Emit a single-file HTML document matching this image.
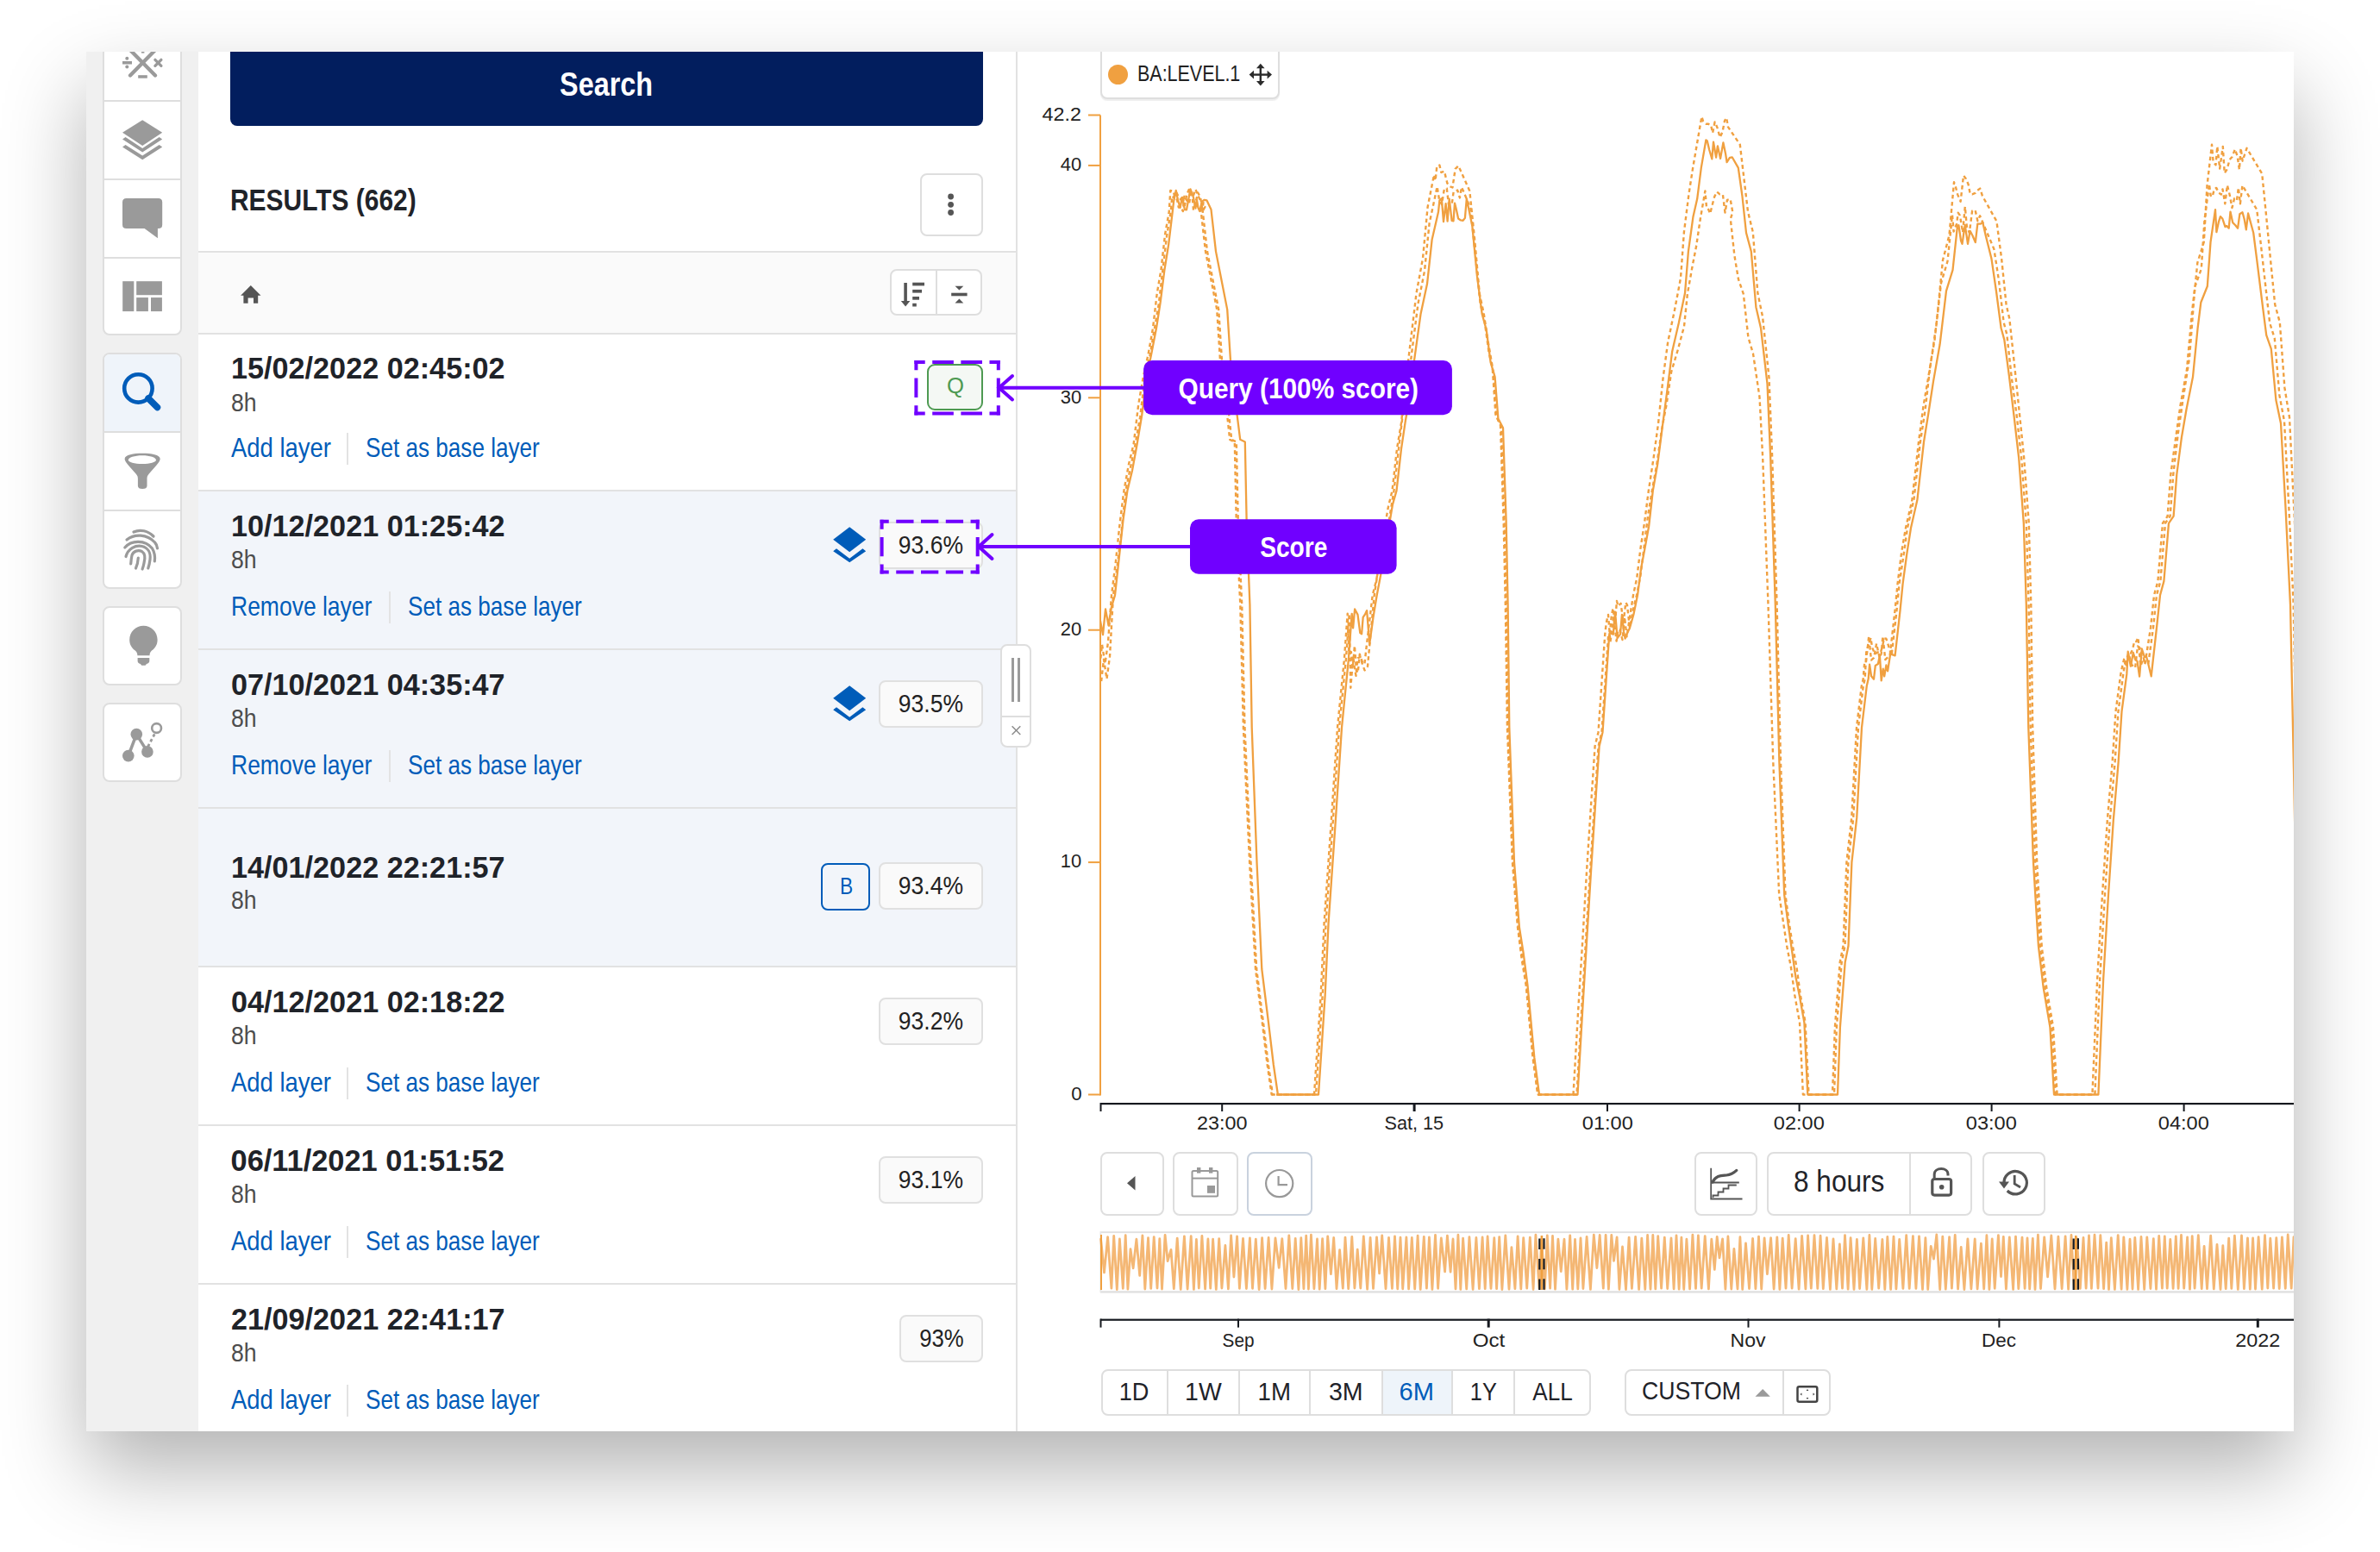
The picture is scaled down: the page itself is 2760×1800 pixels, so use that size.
<!DOCTYPE html>
<html lang="en"><head><meta charset="utf-8"><title>Search results</title>
<style>
html,body{margin:0;padding:0;background:#fff;}
body{width:2760px;height:1800px;overflow:hidden;position:relative;font-family:'Liberation Sans', Arial, sans-serif;}
.win{position:absolute;left:100px;top:60px;width:2560px;height:1600px;background:#fff;overflow:hidden;box-shadow:0 44px 90px 0 rgba(0,0,0,0.30);}
.a{position:absolute;}
.t{white-space:nowrap;line-height:1;}
svg.a{overflow:visible;}
</style></head><body>
<div class="win">
<div class="a" style="left:0.0px;top:0.0px;width:130.0px;height:1600.0px;background:#f0f0f0;"></div>
<div class="a" style="left:19.0px;top:-40.0px;width:92.0px;height:369.0px;background:#fff;border:2px solid #dedede;box-sizing:border-box;border-radius:8px;"></div>
<div class="a" style="left:21.0px;top:56.0px;width:88.0px;height:2.0px;background:#dedede;"></div>
<div class="a" style="left:21.0px;top:147.0px;width:88.0px;height:2.0px;background:#dedede;"></div>
<div class="a" style="left:21.0px;top:238.0px;width:88.0px;height:2.0px;background:#dedede;"></div>
<div class="a" style="left:19.0px;top:349.0px;width:92.0px;height:274.0px;background:#fff;border:2px solid #dedede;box-sizing:border-box;border-radius:8px;"></div>
<div class="a" style="left:21.0px;top:351.0px;width:88.0px;height:89.0px;background:#eff4fa;border-radius:6px 6px 0 0;"></div>
<div class="a" style="left:21.0px;top:440.0px;width:88.0px;height:2.0px;background:#dedede;"></div>
<div class="a" style="left:21.0px;top:531.0px;width:88.0px;height:2.0px;background:#dedede;"></div>
<div class="a" style="left:19.0px;top:643.0px;width:92.0px;height:92.0px;background:#fff;border:2px solid #dedede;box-sizing:border-box;border-radius:8px;"></div>
<div class="a" style="left:19.0px;top:755.0px;width:92.0px;height:92.0px;background:#fff;border:2px solid #dedede;box-sizing:border-box;border-radius:8px;"></div>
<svg class="a" style="left:21.0px;top:0.0px;" width="88.0" height="56.0" viewBox="121 60 88 56">
      <g stroke="#9a9a9a" stroke-width="4.3" stroke-linecap="round" fill="none">
        <line x1="151" y1="58" x2="180" y2="87.5"/><line x1="180" y1="58" x2="151" y2="87.5"/>
        <line x1="179.9" y1="69.3" x2="186.9" y2="76.3" stroke-width="3.3"/><line x1="186.9" y1="69.3" x2="179.9" y2="76.3" stroke-width="3.3"/>
      </g>
      <rect x="142" y="71" width="11" height="3.5" fill="#9a9a9a"/>
      <circle cx="147.3" cy="67.8" r="2" fill="#9a9a9a"/><circle cx="147.3" cy="77.6" r="2" fill="#9a9a9a"/>
      <rect x="160.2" y="87.2" width="10.6" height="3.5" fill="#9a9a9a"/>
      <rect x="164" y="58" width="3.4" height="3.6" fill="#9a9a9a"/>
    </svg>
<svg class="a" style="left:21.0px;top:58.0px;" width="88.0" height="89.0" viewBox="121 118 88 89">
      <g fill="#9a9a9a">
        <path d="M165.2,139.2 L188.2,153.7 L165.2,169 L142,153.7 Z"/>
        <path d="M142,161.5 L145.5,159 L165.2,172 L184.6,159 L188.2,161.5 L165.2,176.6 Z"/>
        <path d="M142,170.5 L145.5,168 L165.2,180.6 L184.6,168 L188.2,170.5 L165.2,185.3 Z"/>
      </g></svg>
<svg class="a" style="left:21.0px;top:149.0px;" width="88.0" height="89.0" viewBox="121 209 88 89">
      <path fill="#9a9a9a" d="M146.6,230 H183.6 Q188.2,230 188.2,234.6 V260.5 Q188.2,265.1 183.6,265.1 H182.9 V276.2 L167.6,265.1 H146.6 Q142,265.1 142,260.5 V234.6 Q142,230 146.6,230 Z"/></svg>
<svg class="a" style="left:21.0px;top:240.0px;" width="88.0" height="87.0" viewBox="121 300 88 87">
      <g fill="#9a9a9a"><rect x="142.2" y="326.2" width="13.1" height="34.9"/><rect x="158.2" y="326.2" width="29.7" height="16"/>
      <rect x="158.2" y="345.1" width="13.7" height="16"/><rect x="175" y="345.1" width="12.9" height="16"/></g></svg>
<svg class="a" style="left:21.0px;top:351.0px;" width="88.0" height="89.0" viewBox="121 411 88 89">
      <circle cx="160.4" cy="450.4" r="16.2" fill="none" stroke="#005cb9" stroke-width="4.6"/>
      <line x1="172" y1="462" x2="182.5" y2="472.5" stroke="#005cb9" stroke-width="7.5" stroke-linecap="round"/></svg>
<svg class="a" style="left:21.0px;top:442.0px;" width="88.0" height="89.0" viewBox="121 502 88 89">
      <path fill="#9a9a9a" fill-rule="evenodd" d="M144.6,532.3 C144.6,527.5 155,525.8 165.2,525.8 C175.4,525.8 185.7,527.5 185.7,532.3 C185.7,535.5 180,541.5 172.8,549.5 C171,551.5 170.5,553 170.5,555.5 L170.5,563.5 C170.5,566 168.5,567 165.2,567 C161.9,567 159.9,566 159.9,563.5 L159.9,555.5 C159.9,553 159.4,551.5 157.6,549.5 C150.4,541.5 144.6,535.5 144.6,532.3 Z
        M148.8,533.5 C148.8,536 156,538.1 165,538.1 C174,538.1 181,536 181,533.5 C181,530.5 174,528.2 165,528.2 C156,528.2 148.8,530.5 148.8,533.5 Z"/></svg>
<svg class="a" style="left:21.0px;top:533.0px;" width="88.0" height="88.0" viewBox="121 593 88 88">
      <g fill="none" stroke="#9a9a9a" stroke-width="3.2" stroke-linecap="round" transform="translate(-1.5,0)">
        <path d="M156.5,617 C164,613.5 173,615.5 179.5,622"/>
        <path d="M148.5,626 C157,619 172,619 181,629 C183,631 183.5,633 184,636"/>
        <path d="M146.3,635 C154,626 170,626 178,636 C181,641 181.5,646 180.8,651"/>
        <path d="M147.5,645.5 C150,636 159,632 166,633.5 C173,635 176.5,641 175.5,649 C175,653 174.3,656 173.3,659"/>
        <path d="M153.2,654 C153.5,650 153.8,647 154.5,644 C156,639 162,637.5 166,639.5 C170,642 169.8,648 168.5,653 C168,656 167.3,658 166.6,660"/>
        <path d="M159,659 C160.5,656 161.5,652 161.8,647"/>
      </g></svg>
<svg class="a" style="left:21.0px;top:645.0px;" width="88.0" height="88.0" viewBox="121 705 88 88">
      <path fill="#9a9a9a" d="M166.4,725.8 C175.3,725.8 182.6,733 182.6,742 C182.6,747.5 180,751.8 176,754.6 C174.3,756 173.6,758 173.5,760.2 L159.4,760.2 C159.3,758 158.6,756 156.8,754.6 C152.8,751.8 150.2,747.5 150.2,742 C150.2,733 157.5,725.8 166.4,725.8 Z"/>
      <path fill="#9a9a9a" d="M159.6,763 H173.3 V766.5 C173.3,768.5 172,769.5 170,770 L168.5,771.7 H164.3 L162.8,770 C160.8,769.5 159.6,768.5 159.6,766.5 Z"/></svg>
<svg class="a" style="left:21.0px;top:757.0px;" width="88.0" height="88.0" viewBox="121 817 88 88">
      <g stroke="#9a9a9a" stroke-width="3.6" fill="none"><line x1="148.8" y1="876.6" x2="158.3" y2="851.6"/><line x1="158.3" y1="851.6" x2="170.9" y2="871.9"/></g>
      <line x1="171.5" y1="866" x2="180" y2="850" stroke="#9a9a9a" stroke-width="2.8" stroke-dasharray="3.5,3"/>
      <g fill="#9a9a9a"><circle cx="158.3" cy="851.6" r="6.8"/><circle cx="148.8" cy="876.6" r="6.8"/><circle cx="170.9" cy="871.9" r="6.8"/></g>
      <circle cx="181.6" cy="844.5" r="5.4" fill="none" stroke="#9a9a9a" stroke-width="2.6"/></svg>
<div class="a" style="left:130.0px;top:0.0px;width:948.0px;height:1600.0px;background:#fff;"></div>
<div class="a" style="left:1077.5px;top:0.0px;width:2.0px;height:1600.0px;background:#e2e2e2;"></div>
<div class="a" style="left:167.0px;top:-50.0px;width:873.0px;height:136.0px;background:#021e5e;border-radius:8px;"></div>
<span class="a t" style="left:538.0px;top:17.8px;font-size:39px;font-weight:700;color:#fff;transform:scaleX(0.8302);transform-origin:center 0;">Search</span>
<span class="a t" style="left:167.0px;top:154.6px;font-size:35.5px;font-weight:700;color:#1f2329;transform:scaleX(0.8433);transform-origin:left 0;">RESULTS (662)</span>
<div class="a" style="left:966.5px;top:140.5px;width:73.0px;height:73.0px;background:#fff;border:2px solid #dedede;box-sizing:border-box;border-radius:8px;"></div>
<svg class="a" style="left:990.0px;top:160.0px;" width="25.0" height="35.0" viewBox="1090 220 25 35"><g fill="#555"><circle cx="1102.6" cy="228" r="3.4"/><circle cx="1102.6" cy="237.3" r="3.4"/><circle cx="1102.6" cy="246.5" r="3.4"/></g></svg>
<div class="a" style="left:130.0px;top:230.5px;width:947.5px;height:2.0px;background:#e2e2e2;"></div>
<div class="a" style="left:130.0px;top:232.5px;width:947.5px;height:93.5px;background:#fafafa;"></div>
<svg class="a" style="left:175.0px;top:265.0px;" width="31.0" height="31.0" viewBox="275 325 31 31"><path fill="#555" d="M290.8,331 L302.5,342.8 L299.2,342.8 L299.2,351.8 L294,351.8 L294,345.5 L287.6,345.5 L287.6,351.8 L282.4,351.8 L282.4,342.8 L279.1,342.8 Z"/></svg>
<div class="a" style="left:931.6px;top:252.2px;width:107.7px;height:54.1px;background:#fff;border:2px solid #dedede;box-sizing:border-box;border-radius:8px;"></div>
<div class="a" style="left:984.7px;top:253.0px;width:2.0px;height:53.0px;background:#dedede;"></div>
<svg class="a" style="left:940.0px;top:262.0px;" width="90.0" height="38.0" viewBox="1040 322 90 38"><g fill="#555">
      <rect x="1048.3" y="328" width="3.6" height="22"/><path d="M1044.8,349 L1055.4,349 L1050.1,355.4 Z"/>
      <rect x="1058.2" y="327.7" width="13.8" height="3.7"/><rect x="1058.2" y="335.9" width="10.8" height="3.7"/>
      <rect x="1058.2" y="344" width="7.8" height="3.7"/><rect x="1058.2" y="351.8" width="4.6" height="3.7"/>
      <rect x="1103.2" y="339.7" width="18.4" height="3.6"/>
      <path d="M1107.5,331.8 L1117.3,331.8 L1112.4,336.6 Z"/><path d="M1107.5,351.6 L1117.3,351.6 L1112.4,346.6 Z"/></g></svg>
<div class="a" style="left:130.0px;top:326.0px;width:947.5px;height:2.0px;background:#e2e2e2;"></div>
<span class="a t" style="left:167.5px;top:349.6px;font-size:34.4px;font-weight:700;color:#1f2329;transform:scaleX(0.9945);transform-origin:left 0;">15/02/2022 02:45:02</span>
<span class="a t" style="left:167.5px;top:391.5px;font-size:29.9px;font-weight:400;color:#4d4d4d;transform:scaleX(0.8902);transform-origin:left 0;">8h</span>
<span class="a t" style="left:167.5px;top:443.9px;font-size:30.5px;font-weight:400;color:#005cb9;transform:scaleX(0.9002);transform-origin:left 0;">Add layer</span>
<div class="a" style="left:302.1px;top:441.8px;width:2.4px;height:37.5px;background:#e3e3e3;"></div>
<span class="a t" style="left:324.3px;top:443.9px;font-size:30.5px;font-weight:400;color:#005cb9;transform:scaleX(0.8563);transform-origin:left 0;">Set as base layer</span>
<div class="a" style="left:975.3px;top:362.3px;width:64.3px;height:53.6px;background:#f4f8f4;border:2.4px solid #4e9a52;box-sizing:border-box;border-radius:9px;"></div>
<span class="a t" style="left:997.5px;top:373.9px;font-size:26px;font-weight:400;color:#4e9a52;transform:scaleX(0.9884);transform-origin:center 0;">Q</span>
<div class="a" style="left:130.0px;top:510.0px;width:947.5px;height:182.0px;background:#f2f5fa;"></div>
<div class="a" style="left:130.0px;top:508.0px;width:947.5px;height:2.0px;background:#e2e2e2;"></div>
<span class="a t" style="left:167.5px;top:533.4px;font-size:34.4px;font-weight:700;color:#1f2329;transform:scaleX(0.9945);transform-origin:left 0;">10/12/2021 01:25:42</span>
<span class="a t" style="left:167.5px;top:574.1px;font-size:29.9px;font-weight:400;color:#4d4d4d;transform:scaleX(0.8902);transform-origin:left 0;">8h</span>
<span class="a t" style="left:167.5px;top:627.7px;font-size:30.5px;font-weight:400;color:#005cb9;transform:scaleX(0.8684);transform-origin:left 0;">Remove layer</span>
<div class="a" style="left:350.5px;top:625.6px;width:2.4px;height:37.5px;background:#e3e3e3;"></div>
<span class="a t" style="left:372.7px;top:627.7px;font-size:30.5px;font-weight:400;color:#005cb9;transform:scaleX(0.8563);transform-origin:left 0;">Set as base layer</span>
<div class="a" style="left:919.3px;top:544.6px;width:120.9px;height:55.1px;background:#fafafa;border:2px solid #e0e0e0;box-sizing:border-box;border-radius:8px;"></div>
<span class="a t" style="left:937.4px;top:556.6px;font-size:29.9px;font-weight:400;color:#222;transform:scaleX(0.8872);transform-origin:center 0;">93.6%</span>
<svg class="a" style="left:860.0px;top:545.8px;" width="50.0" height="53.6" viewBox="960 605.8 50 53.60000000000002"><g fill="#005cb9" transform="translate(966.2,611.0)">
      <path d="M19,0 L38,14.5 L19,29 L0,14.5 Z"/>
      <path d="M0,28 L3.8,25 L19,36.5 L34.2,25 L38,28 L19,41 Z"/></g></svg>
<div class="a" style="left:130.0px;top:694.0px;width:947.5px;height:182.0px;background:#f2f5fa;"></div>
<div class="a" style="left:130.0px;top:692.0px;width:947.5px;height:2.0px;background:#e2e2e2;"></div>
<span class="a t" style="left:167.5px;top:717.4px;font-size:34.4px;font-weight:700;color:#1f2329;transform:scaleX(0.9945);transform-origin:left 0;">07/10/2021 04:35:47</span>
<span class="a t" style="left:167.5px;top:758.1px;font-size:29.9px;font-weight:400;color:#4d4d4d;transform:scaleX(0.8902);transform-origin:left 0;">8h</span>
<span class="a t" style="left:167.5px;top:811.7px;font-size:30.5px;font-weight:400;color:#005cb9;transform:scaleX(0.8684);transform-origin:left 0;">Remove layer</span>
<div class="a" style="left:350.5px;top:809.6px;width:2.4px;height:37.5px;background:#e3e3e3;"></div>
<span class="a t" style="left:372.7px;top:811.7px;font-size:30.5px;font-weight:400;color:#005cb9;transform:scaleX(0.8563);transform-origin:left 0;">Set as base layer</span>
<div class="a" style="left:919.3px;top:728.6px;width:120.9px;height:55.1px;background:#fafafa;border:2px solid #e0e0e0;box-sizing:border-box;border-radius:8px;"></div>
<span class="a t" style="left:937.4px;top:740.6px;font-size:29.9px;font-weight:400;color:#222;transform:scaleX(0.8872);transform-origin:center 0;">93.5%</span>
<svg class="a" style="left:860.0px;top:729.8px;" width="50.0" height="53.6" viewBox="960 789.8 50 53.60000000000002"><g fill="#005cb9" transform="translate(966.2,795.0)">
      <path d="M19,0 L38,14.5 L19,29 L0,14.5 Z"/>
      <path d="M0,28 L3.8,25 L19,36.5 L34.2,25 L38,28 L19,41 Z"/></g></svg>
<div class="a" style="left:130.0px;top:878.0px;width:947.5px;height:182.0px;background:#f2f5fa;"></div>
<div class="a" style="left:130.0px;top:876.0px;width:947.5px;height:2.0px;background:#e2e2e2;"></div>
<span class="a t" style="left:167.5px;top:928.8px;font-size:34.4px;font-weight:700;color:#1f2329;transform:scaleX(0.9945);transform-origin:left 0;">14/01/2022 22:21:57</span>
<span class="a t" style="left:167.5px;top:969.4px;font-size:29.9px;font-weight:400;color:#4d4d4d;transform:scaleX(0.8902);transform-origin:left 0;">8h</span>
<div class="a" style="left:919.3px;top:940.4px;width:120.9px;height:55.1px;background:#fafafa;border:2px solid #e0e0e0;box-sizing:border-box;border-radius:8px;"></div>
<span class="a t" style="left:937.4px;top:952.4px;font-size:29.9px;font-weight:400;color:#222;transform:scaleX(0.8872);transform-origin:center 0;">93.4%</span>
<div class="a" style="left:851.9px;top:940.8px;width:57.6px;height:55.2px;background:transparent;border:2.4px solid #005cb9;box-sizing:border-box;border-radius:8px;"></div>
<span class="a t" style="left:871.6px;top:953.4px;font-size:28.5px;font-weight:400;color:#005cb9;transform:scaleX(0.7993);transform-origin:center 0;">B</span>
<div class="a" style="left:130.0px;top:1060.0px;width:947.5px;height:2.0px;background:#e2e2e2;"></div>
<span class="a t" style="left:167.5px;top:1085.4px;font-size:34.4px;font-weight:700;color:#1f2329;transform:scaleX(0.9945);transform-origin:left 0;">04/12/2021 02:18:22</span>
<span class="a t" style="left:167.5px;top:1126.1px;font-size:29.9px;font-weight:400;color:#4d4d4d;transform:scaleX(0.8902);transform-origin:left 0;">8h</span>
<span class="a t" style="left:167.5px;top:1179.7px;font-size:30.5px;font-weight:400;color:#005cb9;transform:scaleX(0.9002);transform-origin:left 0;">Add layer</span>
<div class="a" style="left:302.1px;top:1177.6px;width:2.4px;height:37.5px;background:#e3e3e3;"></div>
<span class="a t" style="left:324.3px;top:1179.7px;font-size:30.5px;font-weight:400;color:#005cb9;transform:scaleX(0.8563);transform-origin:left 0;">Set as base layer</span>
<div class="a" style="left:919.3px;top:1096.6px;width:120.9px;height:55.1px;background:#fafafa;border:2px solid #e0e0e0;box-sizing:border-box;border-radius:8px;"></div>
<span class="a t" style="left:937.4px;top:1108.6px;font-size:29.9px;font-weight:400;color:#222;transform:scaleX(0.8872);transform-origin:center 0;">93.2%</span>
<div class="a" style="left:130.0px;top:1244.0px;width:947.5px;height:2.0px;background:#e2e2e2;"></div>
<span class="a t" style="left:167.5px;top:1269.4px;font-size:34.4px;font-weight:700;color:#1f2329;">06/11/2021 01:51:52</span>
<span class="a t" style="left:167.5px;top:1310.1px;font-size:29.9px;font-weight:400;color:#4d4d4d;transform:scaleX(0.8902);transform-origin:left 0;">8h</span>
<span class="a t" style="left:167.5px;top:1363.7px;font-size:30.5px;font-weight:400;color:#005cb9;transform:scaleX(0.9002);transform-origin:left 0;">Add layer</span>
<div class="a" style="left:302.1px;top:1361.6px;width:2.4px;height:37.5px;background:#e3e3e3;"></div>
<span class="a t" style="left:324.3px;top:1363.7px;font-size:30.5px;font-weight:400;color:#005cb9;transform:scaleX(0.8563);transform-origin:left 0;">Set as base layer</span>
<div class="a" style="left:919.3px;top:1280.6px;width:120.9px;height:55.1px;background:#fafafa;border:2px solid #e0e0e0;box-sizing:border-box;border-radius:8px;"></div>
<span class="a t" style="left:937.4px;top:1292.6px;font-size:29.9px;font-weight:400;color:#222;transform:scaleX(0.8872);transform-origin:center 0;">93.1%</span>
<div class="a" style="left:130.0px;top:1428.0px;width:947.5px;height:2.0px;background:#e2e2e2;"></div>
<span class="a t" style="left:167.5px;top:1453.4px;font-size:34.4px;font-weight:700;color:#1f2329;transform:scaleX(0.9945);transform-origin:left 0;">21/09/2021 22:41:17</span>
<span class="a t" style="left:167.5px;top:1494.1px;font-size:29.9px;font-weight:400;color:#4d4d4d;transform:scaleX(0.8902);transform-origin:left 0;">8h</span>
<span class="a t" style="left:167.5px;top:1547.7px;font-size:30.5px;font-weight:400;color:#005cb9;transform:scaleX(0.9002);transform-origin:left 0;">Add layer</span>
<div class="a" style="left:302.1px;top:1545.6px;width:2.4px;height:37.5px;background:#e3e3e3;"></div>
<span class="a t" style="left:324.3px;top:1547.7px;font-size:30.5px;font-weight:400;color:#005cb9;transform:scaleX(0.8563);transform-origin:left 0;">Set as base layer</span>
<div class="a" style="left:943.3px;top:1464.6px;width:96.9px;height:55.1px;background:#fafafa;border:2px solid #e0e0e0;box-sizing:border-box;border-radius:8px;"></div>
<span class="a t" style="left:961.8px;top:1476.6px;font-size:29.9px;font-weight:400;color:#222;transform:scaleX(0.8608);transform-origin:center 0;">93%</span>
<div class="a" style="left:1176.0px;top:-40.0px;width:208.0px;height:94.5px;background:#fff;border:2px solid #dedede;box-sizing:border-box;border-radius:8px;box-shadow:0 2px 1px rgba(0,0,0,0.07);"></div>
<svg class="a" style="left:1180.0px;top:10.0px;" width="200.0" height="40.0" viewBox="1280 70 200 40"><circle cx="1296.5" cy="86.5" r="11.5" fill="#f0a040"/>
      <g fill="#2b2b2b">
        <rect x="1460.6" y="76" width="2.4" height="21"/><rect x="1451" y="85.4" width="21.4" height="2.4"/>
        <path d="M1461.8,73.8 L1466.6,79.2 L1457,79.2 Z"/><path d="M1461.8,99.4 L1466.6,94 L1457,94 Z"/>
        <path d="M1448.6,86.6 L1454,81.8 L1454,91.4 Z"/><path d="M1475,86.6 L1469.6,81.8 L1469.6,91.4 Z"/>
      </g></svg>
<span class="a t" style="left:1218.7px;top:13.1px;font-size:25.3px;font-weight:400;color:#222;transform:scaleX(0.8483);transform-origin:left 0;">BA:LEVEL.1</span>
<svg class="a" style="left:1170.0px;top:40.0px;" width="1392.0" height="1175.0" viewBox="1270 100 1392 1175"><defs><clipPath id="pc"><rect x="1277" y="100" width="1383" height="1172"/></clipPath></defs>
      <g clip-path="url(#pc)" fill="none" stroke="#f0a040" stroke-linejoin="round">
        <path d="M1272.0,759.0L1275.0,777.5L1278.0,747.5L1281.5,769.7L1285.0,744.6L1289.0,690.3L1293.8,652.1L1298.6,607.0L1303.4,569.1L1309.0,538.2L1314.6,515.2L1320.2,469.2L1325.8,437.1L1331.4,411.8L1337.0,380.5L1341.7,340.6L1346.4,313.1L1351.1,271.7L1355.7,245.8L1357.3,220.9L1360.8,221.7L1362.5,229.8L1365.0,231.5L1366.8,240.6L1369.3,239.8L1371.8,245.1L1373.5,226.7L1376.0,232.0L1379.1,236.1L1380.7,224.7L1383.5,228.1L1386.4,219.6L1388.7,225.3L1391.0,230.4L1393.9,237.3L1395.7,233.0L1394.5,243.1L1400.0,291.6L1405.8,321.2L1413.2,358.9L1417.0,418.2L1422.6,456.2L1428.2,509.8L1433.8,512.5L1435.8,606.8L1440.2,701.1L1443.5,843.8L1450.5,1000.1L1457.2,1124.0L1465.0,1186.0L1470.8,1234.5L1475.9,1269.5L1524.0,1269.5L1531.7,1153.7L1535.6,1070.1L1543.3,959.7L1551.0,843.8L1558.8,765.7L1562.7,711.8L1564.3,758.0L1566.8,755.9L1568.7,774.7L1570.9,748.9L1572.9,777.3L1574.7,780.3L1576.8,758.7L1580.1,768.5L1582.4,770.2L1584.6,750.5L1591.7,690.3L1596.3,672.0L1600.8,643.7L1605.4,613.1L1609.9,588.0L1614.5,569.1L1620.0,520.6L1625.0,490.5L1630.0,444.2L1635.0,402.7L1642.5,340.2L1650.0,299.6L1655.6,240.2L1663.0,202.7L1664.6,209.4L1666.3,192.9L1669.4,191.6L1671.4,200.0L1674.9,198.6L1678.4,212.6L1682.0,216.4L1684.4,217.5L1687.7,195.8L1691.3,192.3L1694.8,200.2L1704.3,221.4L1710.0,276.6L1715.7,340.2L1720.7,363.5L1725.6,395.8L1730.6,424.6L1734.4,480.8L1740.0,493.3L1743.7,606.8L1745.8,701.1L1747.9,843.8L1753.9,1000.1L1760.0,1075.5L1764.9,1113.9L1769.7,1142.9L1777.5,1226.4L1783.2,1269.5L1824.5,1269.5L1830.3,1169.8L1835.2,1091.9L1840.0,1010.9L1845.8,922.0L1849.6,865.4L1853.5,849.2L1861.2,736.1L1862.8,722.0L1865.0,712.9L1867.4,744.4L1869.1,733.4L1871.1,714.5L1874.6,743.5L1876.4,730.9L1878.3,730.3L1881.5,742.0L1884.0,715.8L1886.5,738.4L1894.0,690.3L1898.2,670.5L1902.4,636.4L1907.1,605.7L1911.8,569.1L1917.4,532.5L1923.0,491.5L1928.6,438.3L1934.2,396.6L1941.7,361.1L1949.0,322.6L1952.9,269.2L1958.5,224.8L1963.2,194.5L1967.8,167.7L1973.4,135.3L1975.0,140.3L1978.4,143.7L1980.8,143.6L1984.1,145.0L1986.1,154.3L1988.6,141.5L1991.3,147.5L1994.6,159.3L1997.4,153.3L2000.1,139.8L2002.2,136.6L2003.9,147.1L2017.8,167.7L2022.4,206.8L2027.0,245.5L2032.8,269.2L2038.4,340.3L2044.0,367.0L2051.5,438.1L2055.2,531.3L2060.6,701.1L2065.0,884.3L2070.5,1037.8L2074.8,1070.9L2079.2,1098.7L2083.5,1121.9L2087.8,1153.7L2093.6,1186.0L2097.5,1269.5L2127.0,1269.5L2129.9,1191.4L2135.7,1115.9L2139.5,1097.1L2143.4,1000.1L2149.2,948.9L2155.0,843.8L2160.8,795.4L2162.7,787.3L2164.3,755.4L2167.0,747.8L2169.5,739.8L2171.0,750.8L2174.2,758.4L2177.6,756.4L2180.6,757.4L2183.1,749.4L2184.8,740.4L2187.4,740.8L2193.6,760.3L2199.4,709.1L2202.6,676.8L2207.3,645.4L2212.0,612.2L2219.4,579.8L2227.0,511.9L2232.5,476.3L2238.0,427.9L2245.6,376.2L2253.0,301.8L2260.5,272.7L2266.0,211.3L2267.6,215.6L2270.2,225.6L2273.6,233.8L2277.0,203.7L2279.6,207.0L2282.6,213.7L2284.7,224.8L2287.0,225.4L2290.6,223.9L2293.0,220.9L2296.2,218.6L2298.9,227.2L2315.4,256.6L2321.0,298.8L2326.6,353.5L2330.3,369.7L2335.9,421.6L2341.6,476.4L2347.2,531.3L2352.8,606.8L2355.3,701.1L2357.2,843.8L2362.2,1000.1L2367.7,1097.1L2373.3,1145.6L2381.0,1191.4L2385.6,1269.5L2429.4,1269.5L2435.2,1134.8L2441.0,1037.8L2446.8,951.6L2452.6,884.3L2456.5,825.0L2462.3,781.9L2463.9,770.7L2465.9,764.6L2469.2,756.2L2471.0,757.6L2472.8,754.0L2475.3,743.7L2477.4,744.0L2479.5,739.4L2482.3,772.3L2485.6,764.2L2487.9,768.7L2491.2,770.6L2497.0,728.0L2501.0,690.3L2505.4,674.1L2511.0,606.8L2516.6,598.7L2520.3,550.2L2525.9,502.1L2531.5,463.5L2539.0,415.2L2544.6,342.8L2548.3,304.8L2555.8,280.7L2559.5,215.2L2565.0,167.7L2566.6,187.7L2569.5,191.3L2571.3,169.9L2574.2,195.5L2577.8,170.0L2579.7,200.7L2582.5,196.6L2585.6,185.2L2588.7,181.7L2591.8,173.1L2594.6,181.0L2596.9,196.8L2598.6,171.8L2600.6,186.7L2602.8,180.0L2605.5,171.8L2623.2,201.4L2627.0,239.3L2634.4,315.2L2638.2,353.1L2643.8,373.8L2649.4,449.7L2655.0,484.1L2660.5,595.4L2665.2,701.1L2667.8,892.3L2670.2,1107.9" stroke-width="2.4" stroke-dasharray="4.6,3.6" stroke-linecap="butt"/>
        <path d="M1274.0,776.4L1277.0,791.3L1280.0,764.6L1283.5,787.4L1287.0,761.4L1291.0,690.3L1295.8,655.7L1300.6,616.0L1305.4,569.1L1311.0,542.1L1316.6,515.2L1322.2,483.2L1327.8,437.1L1333.4,413.2L1339.0,380.5L1343.7,353.1L1348.4,313.1L1353.1,273.6L1357.7,245.8L1359.3,227.4L1361.0,229.1L1364.3,223.3L1367.0,228.8L1369.3,231.6L1371.1,227.4L1373.9,238.2L1376.2,225.9L1378.7,219.9L1382.3,223.2L1384.0,243.8L1386.2,236.1L1389.2,223.5L1392.0,228.6L1394.7,244.9L1397.4,240.0L1392.5,243.1L1398.0,291.6L1403.8,321.2L1411.2,358.9L1415.0,418.2L1420.6,457.8L1426.2,509.8L1431.8,512.5L1433.8,606.8L1438.3,701.1L1441.9,843.8L1449.1,1000.1L1456.0,1124.0L1463.8,1186.0L1469.6,1234.5L1474.7,1269.5L1526.0,1269.5L1533.7,1153.7L1537.6,1070.1L1545.3,959.7L1553.0,843.8L1560.8,765.7L1564.7,711.8L1566.3,797.7L1569.2,761.3L1570.9,774.6L1572.5,783.8L1574.4,763.3L1577.5,761.8L1579.5,769.0L1582.5,777.4L1586.0,772.8L1593.7,690.3L1598.3,660.1L1602.8,639.3L1607.4,625.0L1611.9,596.9L1616.5,569.1L1622.0,520.6L1627.0,478.4L1632.0,455.3L1637.0,410.4L1644.5,352.2L1652.0,314.4L1657.6,259.1L1665.0,224.2L1666.6,216.4L1669.1,232.0L1672.0,237.2L1674.5,221.2L1676.0,218.5L1677.8,218.4L1680.0,237.8L1683.7,236.7L1685.6,222.7L1687.6,222.0L1690.2,220.6L1692.9,229.4L1694.9,217.1L1697.3,222.3L1705.3,241.7L1711.0,297.0L1716.7,352.2L1721.7,373.3L1726.6,408.9L1731.6,430.8L1735.4,483.2L1741.0,494.8L1744.7,606.8L1746.8,701.1L1748.7,843.8L1754.6,1000.1L1760.6,1075.5L1765.5,1111.7L1770.3,1142.9L1778.1,1226.4L1783.8,1269.5L1828.5,1269.5L1834.3,1169.8L1839.2,1088.2L1844.0,1010.9L1849.8,922.0L1853.6,865.4L1857.5,849.2L1865.2,736.1L1866.8,735.7L1868.9,713.3L1870.6,705.6L1873.0,723.3L1874.9,697.0L1876.6,702.9L1879.6,699.8L1882.6,722.1L1885.3,698.8L1887.0,701.7L1889.9,728.1L1894.0,706.7L1898.0,690.3L1902.2,669.0L1906.4,636.4L1911.1,598.0L1915.8,569.1L1921.4,538.1L1927.0,498.4L1932.6,469.0L1938.2,431.1L1945.7,405.9L1953.0,378.6L1956.9,340.8L1962.5,309.3L1967.2,285.1L1971.8,253.9L1977.4,221.5L1979.0,240.4L1980.5,241.3L1983.2,247.7L1986.0,236.5L1988.2,228.1L1991.1,222.5L1994.4,225.3L1997.9,225.6L2000.5,246.6L2003.0,231.8L2006.6,230.9L2009.3,246.1L2006.8,253.9L2011.4,296.4L2016.0,324.0L2021.8,340.8L2027.4,391.2L2033.0,410.1L2040.5,460.5L2044.2,531.3L2050.5,701.1L2056.3,884.3L2063.2,1037.8L2067.7,1067.5L2072.3,1098.1L2076.8,1121.0L2081.2,1153.7L2087.0,1186.0L2090.9,1269.5L2125.0,1269.5L2127.9,1191.4L2133.7,1115.9L2137.5,1097.1L2141.4,1000.1L2147.2,948.9L2153.0,843.8L2158.8,795.4L2160.7,787.3L2162.3,767.2L2164.1,767.0L2167.2,738.0L2170.0,765.6L2173.1,762.8L2176.1,746.5L2179.7,763.1L2181.7,758.1L2183.4,737.9L2186.3,765.0L2191.6,760.3L2197.4,709.1L2200.6,676.8L2205.3,639.4L2210.0,612.2L2217.4,579.8L2225.0,512.4L2230.5,471.0L2236.0,438.8L2243.6,393.5L2251.0,328.5L2258.5,303.0L2264.0,249.3L2265.6,268.6L2269.1,259.7L2270.7,246.8L2272.9,249.9L2276.1,269.4L2278.8,239.7L2280.9,263.4L2283.8,270.0L2287.1,244.7L2290.6,243.6L2293.4,256.3L2296.1,250.3L2312.4,288.9L2318.0,325.2L2323.6,373.7L2327.3,387.9L2332.9,438.8L2338.6,481.2L2344.2,531.3L2349.8,606.8L2352.6,701.1L2354.7,843.8L2360.1,1000.1L2365.8,1097.1L2371.5,1145.6L2379.2,1191.4L2383.8,1269.5L2426.4,1269.5L2432.2,1134.8L2438.0,1037.8L2443.8,951.6L2449.6,884.3L2453.5,825.0L2459.3,781.9L2460.9,773.9L2463.4,763.4L2465.5,773.5L2468.7,758.7L2471.7,770.2L2474.3,773.6L2476.1,774.5L2479.0,749.5L2481.8,751.9L2483.5,761.0L2485.4,760.8L2487.4,770.3L2494.0,728.0L2498.0,690.3L2502.4,674.1L2508.0,606.8L2513.6,598.7L2517.3,550.2L2522.9,509.4L2528.5,470.3L2536.0,428.5L2541.6,365.7L2545.3,332.8L2552.8,311.8L2556.5,255.0L2562.0,213.5L2563.6,226.7L2565.6,228.4L2567.8,219.3L2570.2,217.9L2573.0,223.6L2575.8,225.5L2577.5,219.4L2580.3,236.4L2582.9,214.8L2585.8,226.5L2588.5,241.0L2591.1,230.1L2594.0,232.2L2595.8,217.7L2597.9,236.3L2600.4,215.0L2617.2,243.1L2621.0,276.0L2628.4,341.7L2632.2,374.6L2637.8,392.6L2643.4,458.4L2649.0,488.3L2654.5,591.3L2659.7,701.1L2663.1,892.3L2666.5,1107.9" stroke-width="2.4" stroke-dasharray="4.6,3.6" stroke-linecap="butt"/>
        <path d="M1276.0,719.9L1279.0,736.1L1282.0,706.5L1285.5,725.3L1289.0,703.8L1293.0,690.3L1297.8,646.5L1302.6,602.2L1307.4,569.1L1313.0,545.7L1318.6,515.2L1324.2,481.5L1329.8,437.1L1335.4,409.6L1341.0,380.5L1345.7,350.4L1350.4,313.1L1355.1,284.1L1359.7,245.8L1361.1,233.6L1363.7,220.9L1366.0,232.1L1368.6,240.8L1371.0,228.8L1373.9,243.2L1376.0,243.3L1379.0,227.1L1380.5,219.3L1383.8,228.2L1386.4,241.5L1387.9,231.5L1389.4,240.7L1391.3,245.0L1393.7,233.9L1396.7,231.8L1399.4,232.3L1404.5,243.1L1410.0,291.6L1415.8,321.2L1423.2,358.9L1427.0,418.2L1432.6,465.4L1438.2,509.8L1443.8,512.5L1445.7,606.8L1449.4,701.1L1451.7,843.8L1457.5,1000.1L1463.3,1124.0L1471.0,1186.0L1476.8,1234.5L1481.9,1269.5L1529.0,1269.5L1536.7,1153.7L1540.6,1070.1L1548.3,959.7L1556.0,843.8L1563.8,765.7L1567.7,711.8L1569.1,728.4L1571.1,706.5L1574.5,712.9L1577.3,734.1L1579.1,735.2L1580.7,715.9L1582.9,712.7L1585.1,708.1L1588.2,746.8L1592.4,716.5L1596.7,690.3L1601.3,666.1L1605.8,644.8L1610.4,612.1L1614.9,585.5L1619.5,569.1L1625.0,520.6L1630.0,487.2L1635.0,459.2L1640.0,418.2L1647.5,364.3L1655.0,329.3L1660.6,278.1L1668.0,245.8L1669.4,232.3L1671.8,230.2L1674.0,257.1L1676.6,236.2L1678.6,256.7L1680.7,230.7L1683.6,255.8L1685.5,256.3L1687.0,235.6L1688.8,242.7L1691.1,253.6L1694.0,255.4L1696.6,255.8L1698.9,252.9L1700.8,230.5L1707.3,261.9L1713.0,320.7L1718.7,364.3L1723.7,382.5L1728.6,420.2L1733.6,437.1L1737.4,485.5L1743.0,496.3L1746.7,606.8L1748.6,701.1L1750.3,843.8L1756.0,1000.1L1761.9,1075.5L1766.7,1105.8L1771.5,1142.9L1779.3,1226.4L1785.0,1269.5L1829.5,1269.5L1835.3,1169.8L1840.2,1089.2L1845.0,1010.9L1850.8,922.0L1854.6,865.4L1858.5,849.2L1866.2,736.1L1867.6,731.9L1870.8,735.7L1873.0,709.6L1875.6,740.1L1879.0,735.6L1880.9,712.9L1883.0,732.2L1884.6,740.5L1887.1,734.3L1889.7,729.1L1894.4,712.8L1899.0,690.3L1903.2,658.6L1907.4,636.4L1912.1,610.5L1916.8,569.1L1922.4,537.2L1928.0,493.6L1933.6,451.3L1939.2,407.4L1946.7,375.1L1954.0,340.1L1957.9,291.6L1963.5,251.2L1968.2,230.6L1972.8,194.6L1978.4,162.3L1979.8,163.4L1982.2,173.7L1985.3,184.3L1987.0,164.7L1990.1,182.5L1991.9,169.3L1995.1,183.9L1998.4,165.4L2001.0,177.9L2002.6,188.2L2005.9,182.8L2008.7,182.3L2015.8,194.6L2020.4,227.0L2025.0,270.0L2030.8,291.6L2036.4,356.2L2042.0,380.5L2049.5,445.1L2053.2,531.3L2058.8,701.1L2063.4,884.3L2069.2,1037.8L2073.5,1071.0L2077.9,1101.5L2082.2,1132.0L2086.6,1153.7L2092.4,1186.0L2096.3,1269.5L2131.0,1269.5L2133.9,1191.4L2139.7,1115.9L2143.5,1097.1L2147.4,1000.1L2153.2,948.9L2159.0,843.8L2164.8,795.4L2166.7,787.3L2168.1,770.7L2170.1,784.3L2173.0,787.7L2174.8,771.9L2177.9,770.1L2179.9,760.3L2181.7,789.4L2183.7,775.6L2185.2,784.3L2187.4,771.5L2189.1,778.3L2192.2,758.3L2197.6,760.3L2203.4,709.1L2206.6,676.8L2211.3,642.4L2216.0,612.2L2223.4,579.8L2231.0,512.5L2236.5,478.3L2242.0,442.4L2249.6,399.3L2257.0,337.4L2264.5,313.1L2270.0,261.9L2271.4,261.2L2274.0,279.0L2275.5,282.9L2278.7,260.8L2282.0,282.8L2284.6,267.9L2287.5,273.2L2290.8,281.1L2293.3,259.7L2296.5,259.7L2299.3,257.9L2302.5,272.1L2309.4,299.7L2315.0,338.0L2320.6,380.5L2324.3,393.9L2329.9,435.9L2335.6,482.9L2341.2,531.3L2346.8,606.8L2349.8,701.1L2352.3,843.8L2358.0,1000.1L2363.9,1097.1L2369.7,1145.6L2377.4,1191.4L2382.0,1269.5L2433.4,1269.5L2439.2,1134.8L2445.0,1037.8L2450.8,951.6L2456.6,884.3L2460.5,825.0L2466.3,781.9L2467.7,755.7L2470.9,772.7L2473.8,757.0L2476.4,765.4L2478.5,766.9L2481.1,784.5L2483.8,752.5L2486.9,761.8L2489.1,761.5L2491.7,771.8L2494.7,784.3L2501.0,728.0L2505.0,690.3L2509.4,674.1L2515.0,606.8L2520.6,598.7L2524.3,550.2L2529.9,507.5L2535.5,474.8L2543.0,437.1L2548.6,380.5L2552.3,350.8L2559.8,332.0L2563.5,280.8L2569.0,243.1L2570.4,269.2L2573.0,257.1L2574.9,251.2L2577.3,253.5L2580.5,263.1L2582.0,261.9L2584.7,264.6L2586.5,245.6L2589.2,258.1L2592.3,261.2L2595.1,264.7L2597.3,248.3L2600.5,246.3L2602.7,254.3L2604.8,266.4L2607.1,247.5L2613.2,270.0L2617.0,299.7L2624.4,358.9L2628.2,388.6L2633.8,404.7L2639.4,464.0L2645.0,490.9L2650.5,588.6L2656.0,701.1L2660.0,892.3L2664.0,1107.9" stroke-width="2.3"/>
      </g></svg>
<svg class="a" style="left:1150.0px;top:60.0px;" width="1412.0" height="1175.0" viewBox="1250 120 1412 1175"><rect x="1275" y="133.5" width="2" height="1137.0" fill="#f0a040"/><rect x="1262" y="132.5" width="14" height="2" fill="#f0a040"/><rect x="1262" y="190.9" width="14" height="2" fill="#f0a040"/><rect x="1262" y="460.3" width="14" height="2" fill="#f0a040"/><rect x="1262" y="729.7" width="14" height="2" fill="#f0a040"/><rect x="1262" y="999.1" width="14" height="2" fill="#f0a040"/><rect x="1262" y="1268.5" width="14" height="2" fill="#f0a040"/><rect x="1276" y="1279" width="1390" height="2.2" fill="#16191f"/><rect x="1275.5" y="1279" width="2" height="10" fill="#16191f"/><rect x="1416.2" y="1279" width="2" height="10" fill="#16191f"/><rect x="1638.6" y="1279" width="3" height="10" fill="#16191f"/><rect x="1863.0" y="1279" width="2" height="10" fill="#16191f"/><rect x="2085.6" y="1279" width="2" height="10" fill="#16191f"/><rect x="2308.6" y="1279" width="2" height="10" fill="#16191f"/><rect x="2531.6" y="1279" width="2" height="10" fill="#16191f"/></svg>
<span class="a t" style="left:1110.2px;top:61.7px;font-size:22.6px;font-weight:400;color:#222;transform:scaleX(1.0322);transform-origin:right 0;">42.2</span>
<span class="a t" style="left:1129.1px;top:120.1px;font-size:22.6px;font-weight:400;color:#222;transform:scaleX(0.9705);transform-origin:right 0;">40</span>
<span class="a t" style="left:1129.1px;top:389.5px;font-size:22.6px;font-weight:400;color:#222;transform:scaleX(0.9705);transform-origin:right 0;">30</span>
<span class="a t" style="left:1129.1px;top:658.9px;font-size:22.6px;font-weight:400;color:#222;transform:scaleX(0.9705);transform-origin:right 0;">20</span>
<span class="a t" style="left:1129.1px;top:928.3px;font-size:22.6px;font-weight:400;color:#222;transform:scaleX(0.9705);transform-origin:right 0;">10</span>
<span class="a t" style="left:1141.6px;top:1197.7px;font-size:22.6px;font-weight:400;color:#222;transform:scaleX(0.9858);transform-origin:right 0;">0</span>
<span class="a t" style="left:1288.9px;top:1232.4px;font-size:22.6px;font-weight:400;color:#222;transform:scaleX(1.0328);transform-origin:center 0;">23:00</span>
<span class="a t" style="left:1504.3px;top:1232.4px;font-size:22.6px;font-weight:400;color:#222;transform:scaleX(0.9580);transform-origin:center 0;">Sat, 15</span>
<span class="a t" style="left:1735.7px;top:1232.4px;font-size:22.6px;font-weight:400;color:#222;transform:scaleX(1.0416);transform-origin:center 0;">01:00</span>
<span class="a t" style="left:1958.3px;top:1232.4px;font-size:22.6px;font-weight:400;color:#222;transform:scaleX(1.0416);transform-origin:center 0;">02:00</span>
<span class="a t" style="left:2181.3px;top:1232.4px;font-size:22.6px;font-weight:400;color:#222;transform:scaleX(1.0416);transform-origin:center 0;">03:00</span>
<span class="a t" style="left:2404.3px;top:1232.4px;font-size:22.6px;font-weight:400;color:#222;transform:scaleX(1.0416);transform-origin:center 0;">04:00</span>
<div class="a" style="left:1176.2px;top:1276.0px;width:73.5px;height:73.5px;background:#fff;border:2px solid #dedede;box-sizing:border-box;border-radius:8px;"></div>
<div class="a" style="left:1260.0px;top:1276.0px;width:75.6px;height:73.5px;background:#fff;border:2px solid #dedede;box-sizing:border-box;border-radius:8px;"></div>
<div class="a" style="left:1345.9px;top:1276.0px;width:75.9px;height:73.5px;background:#fff;border:2px solid #c9d2de;box-sizing:border-box;border-radius:8px;"></div>
<svg class="a" style="left:1180.0px;top:1280.0px;" width="240.0" height="65.0" viewBox="1280 1340 240 65">
      <path d="M1307,1372.2 L1316.5,1364 L1316.5,1380.4 Z" fill="#555"/>
      <g fill="none" stroke="#999" stroke-width="2"><rect x="1382.5" y="1358.1" width="29.7" height="29.4" rx="1.5"/>
        <line x1="1382.5" y1="1366.6" x2="1412.2" y2="1366.6"/></g>
      <rect x="1388" y="1354" width="4.4" height="6.6" fill="#999"/><rect x="1402" y="1354" width="4.4" height="6.6" fill="#999"/>
      <rect x="1400" y="1375" width="9" height="8.8" fill="#999"/>
      <circle cx="1483.7" cy="1372.6" r="15.6" fill="none" stroke="#999" stroke-width="2.2"/>
      <polyline points="1482.6,1363.9 1482.6,1374.1 1493,1374.1" fill="none" stroke="#999" stroke-width="2.2"/></svg>
<div class="a" style="left:1865.3px;top:1276.0px;width:73.2px;height:73.5px;background:#fff;border:2px solid #dedede;box-sizing:border-box;border-radius:8px;"></div>
<div class="a" style="left:1949.1px;top:1276.0px;width:238.2px;height:73.5px;background:#fff;border:2px solid #dedede;box-sizing:border-box;border-radius:8px;"></div>
<div class="a" style="left:2113.6px;top:1277.0px;width:2.0px;height:71.5px;background:#dedede;"></div>
<div class="a" style="left:2198.5px;top:1276.0px;width:73.0px;height:73.5px;background:#fff;border:2px solid #dedede;box-sizing:border-box;border-radius:8px;"></div>
<svg class="a" style="left:1875.0px;top:1285.0px;" width="390.0" height="55.0" viewBox="1975 1345 390 55">
      <g fill="none" stroke="#555">
        <polyline points="1984.2,1354.7 1984.2,1390.5 2020.5,1390.5" stroke-width="1.8"/>
        <line x1="1984.2" y1="1371.5" x2="2016.8" y2="1371.5" stroke-width="1.8"/>
        <path d="M1986,1371 C1990,1363 1996,1363.5 2002,1363 C2007,1362.5 2010,1361 2013.8,1357.4" stroke-width="3.2" stroke-linecap="round"/>
        <polyline points="1986.5,1389 1986.5,1386.5 1992.5,1386.5 1992.5,1382.5 1998.5,1382.5 1998.5,1378.5 2004.5,1378.5 2004.5,1374.5 2013.8,1374.5" stroke-width="1.8"/>
        <path d="M2243.2,1366.7 L2243.2,1362 C2243.2,1357.5 2247,1355.6 2251.2,1355.6 C2255.4,1355.6 2259,1357.5 2259,1362 L2259,1363.5" stroke-width="3"/>
        <rect x="2240.8" y="1367.5" width="21.8" height="18.6" rx="2.5" stroke-width="3.2"/>
        <path d="M2327.8,1381 A13.2,13.2 0 1 0 2324,1372.4" stroke-width="3.2"/>
        <polyline points="2336.2,1363 2336.2,1373 2343,1377" stroke-width="2.8"/>
      </g>
      <circle cx="2251.7" cy="1376.8" r="2.8" fill="#555"/>
      <path d="M2318,1370.5 L2330,1370.5 L2324,1378.5 Z" fill="#555"/></svg>
<span class="a t" style="left:1979.6px;top:1292.6px;font-size:34.6px;font-weight:400;color:#1f2329;transform:scaleX(0.9138);transform-origin:left 0;">8 hours</span>
<svg class="a" style="left:1170.0px;top:1360.0px;" width="1392.0" height="125.0" viewBox="1270 1420 1392 125"><rect x="1276" y="1428.2" width="1390" height="1.9" fill="#e0e0e0"/>
      <rect x="1276" y="1497.2" width="1390" height="2.4" fill="#e0e0e0"/>
      <rect x="1275.5" y="1428.2" width="1.8" height="71" fill="#e6e6e6"/>
      <path d="M1276.5,1436.1 L1280.5,1475.8 L1284.6,1434.6 L1288.9,1494.1 L1291.7,1433.4 L1295.3,1495.5 L1298.4,1437.0 L1302.3,1494.3 L1305.2,1432.7 L1307.9,1495.2 L1311.0,1448.7 L1314.1,1470.9 L1317.9,1437.2 L1321.7,1479.4 L1324.9,1432.9 L1327.8,1495.0 L1331.5,1435.7 L1334.7,1494.3 L1338.2,1434.6 L1342.0,1494.0 L1344.8,1436.6 L1347.5,1495.0 L1351.1,1432.3 L1354.1,1462.7 L1358.0,1449.4 L1361.3,1494.7 L1365.2,1436.1 L1369.2,1495.4 L1373.4,1433.9 L1377.1,1495.0 L1381.2,1433.7 L1384.4,1495.4 L1387.4,1437.5 L1390.3,1494.0 L1393.9,1433.3 L1397.6,1494.8 L1400.9,1437.0 L1403.7,1494.2 L1406.6,1437.2 L1410.3,1495.3 L1413.7,1436.6 L1416.9,1494.0 L1420.9,1444.5 L1424.4,1494.8 L1427.6,1432.8 L1430.9,1481.0 L1434.6,1433.9 L1437.4,1494.3 L1441.5,1436.3 L1445.4,1494.5 L1449.4,1435.9 L1452.5,1494.3 L1456.3,1437.2 L1460.1,1495.5 L1463.6,1435.7 L1467.1,1494.5 L1471.1,1435.5 L1474.9,1495.0 L1479.0,1435.8 L1483.2,1470.4 L1486.8,1436.6 L1491.0,1494.5 L1494.8,1432.9 L1498.8,1494.5 L1502.2,1436.3 L1505.9,1495.5 L1508.8,1435.6 L1511.9,1494.6 L1514.7,1433.2 L1517.4,1495.0 L1520.4,1432.2 L1523.9,1494.6 L1527.5,1437.0 L1530.2,1495.1 L1533.6,1436.6 L1536.9,1494.6 L1539.7,1433.9 L1543.4,1477.6 L1546.7,1435.5 L1550.0,1494.6 L1553.6,1449.7 L1557.3,1494.2 L1560.0,1435.1 L1563.7,1494.6 L1567.8,1434.4 L1570.9,1494.0 L1574.2,1449.1 L1577.8,1494.0 L1581.3,1433.8 L1585.6,1495.1 L1589.1,1435.4 L1592.5,1494.3 L1596.5,1434.9 L1599.6,1476.8 L1602.7,1432.9 L1607.0,1494.6 L1610.5,1435.3 L1614.4,1494.4 L1617.5,1433.8 L1620.7,1494.8 L1624.0,1435.2 L1626.7,1494.8 L1630.9,1435.0 L1633.6,1494.9 L1637.3,1435.5 L1640.7,1494.9 L1644.1,1433.1 L1647.2,1495.4 L1651.3,1434.4 L1654.4,1494.1 L1657.4,1435.0 L1660.9,1495.3 L1664.5,1432.4 L1667.6,1494.3 L1671.3,1436.0 L1675.6,1474.8 L1678.4,1433.2 L1682.1,1475.1 L1685.0,1437.0 L1688.0,1494.9 L1690.9,1432.2 L1693.8,1495.4 L1696.6,1436.1 L1700.7,1494.9 L1703.9,1434.7 L1708.1,1495.4 L1711.9,1435.5 L1715.4,1494.7 L1719.1,1435.0 L1722.2,1494.7 L1725.1,1434.0 L1729.0,1494.4 L1732.8,1435.7 L1735.6,1494.6 L1738.7,1434.6 L1741.9,1495.5 L1745.8,1432.8 L1750.0,1495.2 L1752.9,1446.7 L1756.9,1494.6 L1760.1,1433.8 L1763.8,1494.9 L1766.7,1435.6 L1770.7,1494.2 L1774.3,1435.2 L1778.1,1495.4 L1780.9,1432.2 L1785.0,1494.4 L1787.7,1436.9 L1791.4,1494.8 L1794.3,1432.9 L1797.6,1494.2 L1800.5,1433.5 L1803.5,1495.1 L1806.9,1437.1 L1810.2,1474.5 L1814.0,1437.2 L1816.9,1495.1 L1820.7,1432.9 L1823.7,1495.2 L1826.5,1437.4 L1829.8,1494.8 L1833.0,1435.9 L1835.9,1494.5 L1840.1,1434.4 L1844.4,1495.4 L1848.3,1432.2 L1851.9,1470.5 L1855.2,1432.4 L1859.3,1494.1 L1862.1,1432.3 L1865.4,1495.1 L1868.8,1432.3 L1871.5,1462.3 L1875.1,1434.9 L1877.9,1495.3 L1881.5,1446.0 L1885.5,1495.5 L1889.1,1435.1 L1892.4,1494.4 L1896.6,1434.5 L1900.6,1495.3 L1903.8,1436.2 L1907.8,1495.3 L1910.6,1432.5 L1914.0,1495.1 L1916.8,1432.3 L1919.8,1494.9 L1922.7,1433.7 L1926.6,1494.2 L1930.3,1435.2 L1933.7,1494.5 L1938.0,1435.9 L1941.1,1494.9 L1944.0,1432.9 L1947.1,1495.1 L1949.9,1435.1 L1952.7,1495.3 L1955.9,1437.2 L1959.6,1494.9 L1962.9,1432.1 L1966.5,1494.4 L1969.4,1432.9 L1973.2,1494.1 L1977.2,1433.7 L1981.4,1494.8 L1984.8,1437.1 L1988.3,1472.3 L1991.2,1434.3 L1994.0,1458.8 L1997.6,1436.8 L2000.9,1495.1 L2003.9,1434.0 L2007.8,1495.0 L2010.9,1448.4 L2015.0,1494.9 L2017.9,1434.7 L2020.7,1495.4 L2024.5,1442.0 L2028.5,1494.5 L2032.6,1436.4 L2035.9,1494.7 L2039.5,1434.1 L2042.7,1495.0 L2046.1,1435.9 L2049.4,1477.6 L2053.6,1435.7 L2057.1,1495.0 L2060.8,1434.9 L2063.9,1495.4 L2067.2,1436.2 L2071.0,1494.1 L2074.2,1432.4 L2078.1,1494.1 L2082.2,1436.6 L2086.1,1495.2 L2089.6,1433.3 L2093.9,1494.9 L2096.6,1433.0 L2100.3,1494.1 L2104.0,1432.6 L2107.8,1494.4 L2111.1,1433.2 L2114.3,1494.6 L2118.5,1435.5 L2122.4,1495.4 L2126.0,1436.8 L2129.8,1494.9 L2133.4,1443.0 L2136.5,1494.1 L2139.5,1432.6 L2143.1,1495.2 L2146.1,1435.6 L2150.0,1495.4 L2153.4,1437.3 L2156.6,1494.5 L2160.8,1435.8 L2164.9,1495.3 L2167.9,1432.5 L2170.8,1495.3 L2174.7,1436.5 L2178.7,1494.1 L2182.9,1437.3 L2185.8,1495.4 L2188.8,1434.5 L2192.6,1495.4 L2196.0,1434.1 L2198.9,1494.9 L2202.7,1437.3 L2206.9,1494.4 L2210.7,1432.6 L2214.2,1494.4 L2218.4,1433.6 L2221.9,1494.3 L2225.5,1433.9 L2229.5,1495.4 L2232.9,1435.7 L2235.7,1495.4 L2239.2,1445.4 L2242.5,1460.2 L2245.8,1432.0 L2249.7,1495.5 L2252.8,1434.1 L2256.3,1495.2 L2260.6,1434.6 L2263.4,1494.1 L2267.2,1432.3 L2270.6,1494.8 L2274.2,1446.5 L2277.9,1495.5 L2281.9,1436.8 L2285.9,1494.9 L2290.2,1436.9 L2293.1,1494.9 L2297.4,1442.2 L2300.7,1494.8 L2303.9,1432.7 L2306.9,1495.4 L2310.2,1436.9 L2313.2,1494.3 L2317.4,1432.7 L2320.5,1480.5 L2323.3,1434.4 L2326.4,1494.9 L2330.3,1434.9 L2334.6,1495.4 L2337.5,1434.1 L2340.8,1494.6 L2345.0,1435.1 L2348.1,1494.4 L2351.0,1435.9 L2353.7,1494.9 L2357.3,1436.4 L2360.0,1495.4 L2363.4,1432.1 L2366.5,1494.5 L2370.7,1434.9 L2374.6,1480.8 L2378.8,1432.9 L2383.0,1494.8 L2386.9,1434.1 L2391.1,1494.7 L2395.1,1433.9 L2398.6,1495.2 L2402.0,1432.5 L2405.3,1494.0 L2408.4,1436.3 L2412.3,1494.3 L2416.0,1435.5 L2419.1,1494.2 L2422.5,1433.0 L2425.4,1494.4 L2429.0,1432.2 L2433.0,1494.2 L2435.8,1432.6 L2439.6,1494.6 L2442.7,1441.1 L2445.5,1495.4 L2448.3,1435.6 L2452.4,1495.4 L2456.2,1432.7 L2460.1,1495.1 L2462.8,1434.8 L2466.9,1495.3 L2470.0,1437.2 L2473.0,1495.0 L2475.8,1435.4 L2479.6,1495.3 L2483.0,1434.5 L2486.7,1495.3 L2489.8,1434.9 L2493.9,1494.5 L2497.3,1436.6 L2500.5,1495.1 L2503.7,1433.5 L2507.4,1494.1 L2510.3,1433.9 L2513.2,1494.2 L2516.8,1437.3 L2520.1,1494.4 L2523.3,1433.8 L2526.1,1494.4 L2529.5,1432.3 L2532.7,1494.1 L2536.6,1434.8 L2539.5,1495.2 L2542.2,1433.6 L2545.1,1494.1 L2549.3,1432.6 L2553.2,1494.7 L2556.1,1445.4 L2559.5,1494.7 L2563.7,1433.2 L2567.3,1494.9 L2571.0,1443.3 L2575.0,1495.3 L2577.8,1444.7 L2581.2,1494.6 L2584.7,1436.1 L2587.8,1494.4 L2591.4,1433.1 L2595.3,1495.3 L2599.5,1432.9 L2602.4,1494.6 L2606.5,1435.8 L2609.3,1495.1 L2612.6,1436.0 L2615.5,1495.0 L2619.1,1434.7 L2623.2,1495.1 L2626.5,1432.7 L2629.8,1494.0 L2632.8,1436.2 L2636.6,1494.1 L2639.8,1435.6 L2643.2,1494.5 L2646.4,1434.8 L2650.3,1494.3 L2653.2,1432.0 L2657.2,1494.2 L2660.0,1434.6 L2662.9,1494.0 L2666.9,1436.6" fill="none" stroke="#f4b774" stroke-width="2.8" stroke-linejoin="round"/>
      <rect x="1276" y="1432" width="2" height="64" fill="#f0a040"/><rect x="1786.6" y="1433" width="2.6" height="63" fill="#f0a040"/>
          <path d="M1785.3,1496 L1785.3,1436 A2.6,4 0 0 1 1790.5,1436 L1790.5,1496" fill="none" stroke="#16191f" stroke-width="2.2" stroke-dasharray="12.5,11" /><rect x="2406.0" y="1433" width="2.6" height="63" fill="#f0a040"/>
          <path d="M2404.7,1496 L2404.7,1436 A2.6,4 0 0 1 2409.9,1436 L2409.9,1496" fill="none" stroke="#16191f" stroke-width="2.2" stroke-dasharray="12.5,11" /><rect x="1276" y="1529.6" width="1390" height="2.2" fill="#16191f"/><rect x="1275.5" y="1529.6" width="2" height="10" fill="#16191f"/><rect x="1435.0" y="1529.6" width="2" height="10" fill="#16191f"/><rect x="1724.7" y="1529.6" width="3" height="10" fill="#16191f"/><rect x="2026.5" y="1529.6" width="2" height="10" fill="#16191f"/><rect x="2317.4" y="1529.6" width="2" height="10" fill="#16191f"/><rect x="2616.8" y="1529.6" width="3" height="10" fill="#16191f"/></svg>
<span class="a t" style="left:1315.9px;top:1484.3px;font-size:22.6px;font-weight:400;color:#222;transform:scaleX(0.9203);transform-origin:center 0;">Sep</span>
<span class="a t" style="left:1608.6px;top:1484.3px;font-size:22.6px;font-weight:400;color:#222;transform:scaleX(1.0667);transform-origin:center 0;">Oct</span>
<span class="a t" style="left:1907.4px;top:1484.3px;font-size:22.6px;font-weight:400;color:#222;transform:scaleX(1.0202);transform-origin:center 0;">Nov</span>
<span class="a t" style="left:2198.3px;top:1484.3px;font-size:22.6px;font-weight:400;color:#222;transform:scaleX(0.9953);transform-origin:center 0;">Dec</span>
<span class="a t" style="left:2493.2px;top:1484.3px;font-size:22.6px;font-weight:400;color:#222;transform:scaleX(1.0345);transform-origin:center 0;">2022</span>
<div class="a" style="left:1176.7px;top:1528.0px;width:567.9px;height:53.5px;background:#fff;border:2px solid #dedede;box-sizing:border-box;border-radius:8px;"></div>
<div class="a" style="left:1502.7px;top:1530.0px;width:80.8px;height:49.5px;background:#eef4fa;"></div>
<div class="a" style="left:1252.5px;top:1529.0px;width:2.0px;height:51.5px;background:#dedede;"></div>
<div class="a" style="left:1336.3px;top:1529.0px;width:2.0px;height:51.5px;background:#dedede;"></div>
<div class="a" style="left:1417.6px;top:1529.0px;width:2.0px;height:51.5px;background:#dedede;"></div>
<div class="a" style="left:1501.7px;top:1529.0px;width:2.0px;height:51.5px;background:#dedede;"></div>
<div class="a" style="left:1582.5px;top:1529.0px;width:2.0px;height:51.5px;background:#dedede;"></div>
<div class="a" style="left:1655.4px;top:1529.0px;width:2.0px;height:51.5px;background:#dedede;"></div>
<span class="a t" style="left:1196.0px;top:1538.7px;font-size:29.9px;font-weight:400;color:#1f2329;transform:scaleX(0.9079);transform-origin:center 0;">1D</span>
<span class="a t" style="left:1273.0px;top:1538.7px;font-size:29.9px;font-weight:400;color:#1f2329;transform:scaleX(0.9500);transform-origin:center 0;">1W</span>
<span class="a t" style="left:1357.2px;top:1538.7px;font-size:29.9px;font-weight:400;color:#1f2329;transform:scaleX(0.9246);transform-origin:center 0;">1M</span>
<span class="a t" style="left:1439.9px;top:1538.7px;font-size:29.9px;font-weight:400;color:#1f2329;transform:scaleX(0.9559);transform-origin:center 0;">3M</span>
<span class="a t" style="left:1522.3px;top:1538.7px;font-size:29.9px;font-weight:400;color:#005cb9;transform:scaleX(0.9728);transform-origin:center 0;">6M</span>
<span class="a t" style="left:1601.7px;top:1538.7px;font-size:29.9px;font-weight:400;color:#1f2329;transform:scaleX(0.8479);transform-origin:center 0;">1Y</span>
<span class="a t" style="left:1673.9px;top:1538.7px;font-size:29.9px;font-weight:400;color:#1f2329;transform:scaleX(0.8743);transform-origin:center 0;">ALL</span>
<div class="a" style="left:1784.2px;top:1527.6px;width:238.4px;height:54.4px;background:#fff;border:2px solid #dedede;box-sizing:border-box;border-radius:8px;"></div>
<div class="a" style="left:1967.3px;top:1528.5px;width:2.0px;height:52.5px;background:#dedede;"></div>
<span class="a t" style="left:1804.2px;top:1538.2px;font-size:29.9px;font-weight:400;color:#1f2329;transform:scaleX(0.8916);transform-origin:left 0;">CUSTOM</span>
<svg class="a" style="left:1930.0px;top:1540.0px;" width="85.0" height="32.0" viewBox="2030 1600 85 32"><path d="M2035.5,1619.7 L2044.2,1611 L2052.8,1619.7 Z" fill="#9a9a9a"/>
      <rect x="2084.5" y="1608.2" width="22.8" height="17.6" rx="2" fill="none" stroke="#444" stroke-width="2.5"/>
      <g fill="#444"><path d="M2094.6,1613 L2096,1611 L2097.4,1613 Z"/><path d="M2094.6,1621 L2096,1623 L2097.4,1621 Z"/>
      <path d="M2089.5,1615.6 L2087.5,1617 L2089.5,1618.4 Z"/><path d="M2102.5,1615.6 L2104.5,1617 L2102.5,1618.4 Z"/></g></svg>
<div class="a" style="left:1060.3px;top:687.3px;width:35.3px;height:119.7px;background:#fff;border:2px solid #dedede;box-sizing:border-box;border-radius:8px;"></div>
<div class="a" style="left:1061.0px;top:770.0px;width:34.0px;height:2.0px;background:#dedede;"></div>
<div class="a" style="left:1073.1px;top:703.0px;width:2.6px;height:50.5px;background:#9a9a9a;"></div>
<div class="a" style="left:1080.1px;top:703.0px;width:2.6px;height:50.5px;background:#9a9a9a;"></div>
<svg class="a" style="left:1068.0px;top:778.0px;" width="20.0" height="18.0" viewBox="1168 838 20 18"><g stroke="#8c8c8c" stroke-width="1.5"><line x1="1173.6" y1="842.3" x2="1183.3" y2="852"/><line x1="1183.3" y1="842.3" x2="1173.6" y2="852"/></g></svg>
<svg class="a" style="left:915.0px;top:350.0px;" width="675.0" height="260.0" viewBox="1015 410 675 260">
<g fill="none" stroke="#7000ff" stroke-width="4"><path d="M1060.4,420 H1159.8" stroke-dasharray="12.32,8.50,24.63,8.50,24.63,8.50,22.32"/><path d="M1060.4,479.4 H1159.8" stroke-dasharray="12.32,8.50,24.63,8.50,24.63,8.50,22.32"/><path d="M1062.4,418.0 V481.4" stroke-dasharray="11.20,9.30,22.40,9.30,21.20"/><path d="M1157.8,418.0 V481.4" stroke-dasharray="11.20,9.30,22.40,9.30,21.20"/></g>
      <g fill="none" stroke="#7000ff" stroke-width="4"><path d="M1020.6,604.7 H1135.7" stroke-dasharray="10.14,8.50,20.28,8.50,20.28,8.50,20.28,8.50,20.14"/><path d="M1020.6,663.6 H1135.7" stroke-dasharray="10.14,8.50,20.28,8.50,20.28,8.50,20.28,8.50,20.14"/><path d="M1022.6,602.7 V665.6" stroke-dasharray="11.07,9.30,22.15,9.30,21.07"/><path d="M1133.7,602.7 V665.6" stroke-dasharray="11.07,9.30,22.15,9.30,21.07"/></g>
      <line x1="1158" y1="449.7" x2="1330" y2="449.7" stroke="#7000ff" stroke-width="4"/>
      <polyline points="1174,436 1158.5,449.7 1174,463.5" fill="none" stroke="#7000ff" stroke-width="4" stroke-linecap="round"/>
      <line x1="1135" y1="633.9" x2="1384" y2="633.9" stroke="#7000ff" stroke-width="4"/>
      <polyline points="1150.5,620 1135,633.9 1150.5,648" fill="none" stroke="#7000ff" stroke-width="4" stroke-linecap="round"/>
      <rect x="1326.1" y="418" width="357.8" height="63.3" rx="10" fill="#7000ff"/>
      <rect x="1380" y="602.2" width="239.6" height="63.6" rx="10" fill="#7000ff"/></svg>
<span class="a t" style="left:1246.5px;top:373.1px;font-size:34px;font-weight:700;color:#fff;transform:scaleX(0.8775);transform-origin:center 0;">Query (100% score)</span>
<span class="a t" style="left:1352.8px;top:557.3px;font-size:34px;font-weight:700;color:#fff;transform:scaleX(0.8275);transform-origin:center 0;">Score</span>
</div>
</body></html>
